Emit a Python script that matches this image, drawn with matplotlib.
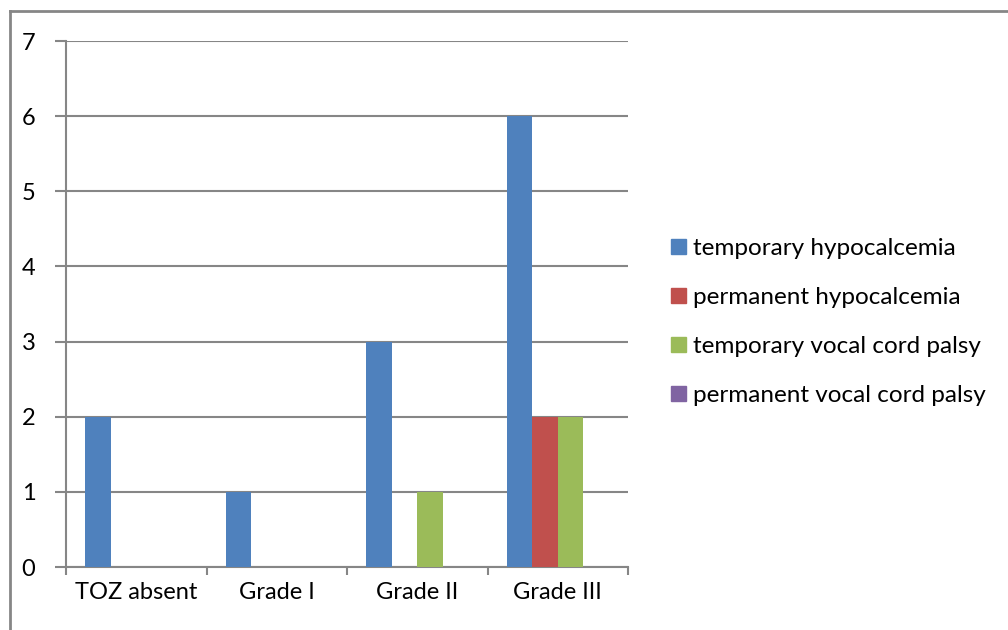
import numpy as np
import matplotlib
matplotlib.use('Agg')
import matplotlib.pyplot as plt
from matplotlib.lines import Line2D

categories = ['TOZ absent', 'Grade I', 'Grade II', 'Grade III']
series_names = ['temporary hypocalcemia', 'permanent hypocalcemia',
                'temporary vocal cord palsy', 'permanent vocal cord palsy']
temp_hypo = [2, 1, 3, 6]
perm_hypo = [0, 0, 0, 2]
temp_vocal = [0, 0, 1, 2]
perm_vocal = [0, 0, 0, 0]
colors = ['#4f81bd', '#c0504d', '#9bbb59', '#8064a2']

plt.rcParams['font.family'] = ['Lato', 'DejaVu Sans']

fig = plt.figure(figsize=(10.08, 6.30), dpi=100)
ax = fig.add_axes([66/1008, 1 - 567/630, (628 - 66)/1008, (567 - 41)/630])

grid_col = '#868686'
n = 4
bw = 1.0 / (n + 1.5)
x = np.arange(len(categories))
for i, vals in enumerate([temp_hypo, perm_hypo, temp_vocal, perm_vocal]):
    left = x + 0.75 * bw + i * bw
    ax.bar(left, vals, width=bw, align='edge', color=colors[i],
           label=series_names[i], zorder=3)

ax.set_xlim(0, len(categories))
ax.set_ylim(0, 7)
ax.set_yticks(range(0, 8))
ax.yaxis.grid(True, color=grid_col, linewidth=1.5, zorder=0)
ax.set_xticks(np.arange(0, len(categories) + 1))
ax.set_xticklabels([])
ax.set_xticks(x + 0.5, minor=True)
ax.set_xticklabels(categories, minor=True)
ax.tick_params(axis='x', which='minor', length=0, pad=11, labelsize=17)
ax.tick_params(axis='x', which='major', length=6, width=1.5, color=grid_col)
ax.tick_params(axis='y', length=8, width=1.5, color=grid_col, pad=14, labelsize=17)

for side in ['top', 'right']:
    ax.spines[side].set_visible(False)
for side in ['left', 'bottom']:
    ax.spines[side].set_color(grid_col)
    ax.spines[side].set_linewidth(1.5)

handles = [plt.Rectangle((0, 0), 1, 1, color=c) for c in colors]
fig.legend(handles, series_names, loc='center left',
           bbox_to_anchor=(671/1008, 1 - 322/630), frameon=False,
           fontsize=17.5, handlelength=0.6, handleheight=0.6,
           handletextpad=0.3, labelspacing=1.15, borderpad=0,
           borderaxespad=0)

# outer chart frame (top and left edges)
fig.add_artist(Line2D([10/1008, 1.0], [1 - 11/630, 1 - 11/630],
                      transform=fig.transFigure, color=grid_col, linewidth=2))
fig.add_artist(Line2D([10/1008, 10/1008], [0, 1 - 11/630],
                      transform=fig.transFigure, color=grid_col, linewidth=2))

fig.savefig('out.png', dpi=100)
